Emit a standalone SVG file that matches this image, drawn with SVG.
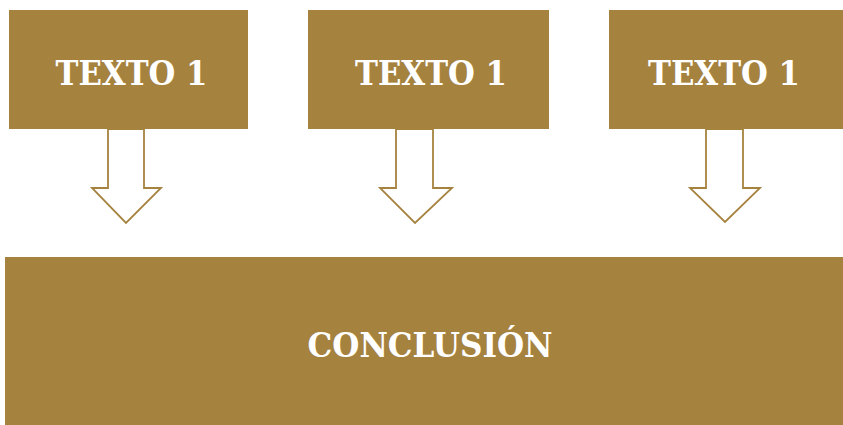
<svg xmlns="http://www.w3.org/2000/svg" width="843" height="425" viewBox="0 0 843 425">
<style>
.box{fill:#a6823f}
.lbl{font-family:"DejaVu Serif","Liberation Serif",serif;font-weight:bold;font-size:34px;fill:#ffffff}
.arr{fill:#ffffff;stroke:#a6823f;stroke-width:1.8;stroke-linejoin:miter}
</style>
<rect width="843" height="425" fill="#ffffff"/>
<g id="connectors">
<polygon class="arr" points="108,129 108,188 92,188 126,223 161,188 144,188 144,129"/>
<polygon class="arr" points="396,129 396,188 380,188 415,223 452,188 433,188 433,129"/>
<polygon class="arr" points="706,129 706,188 690,188 725,222 760,188 743,188 743,129"/>
</g>
<g id="texto1a">
<rect class="box" x="9" y="10" width="239" height="119"/>
<text class="lbl" x="131.5" y="85" text-anchor="middle" textLength="152" lengthAdjust="spacingAndGlyphs">TEXTO 1</text>
</g>
<g id="texto1b">
<rect class="box" x="308" y="10" width="241" height="119"/>
<text class="lbl" x="431" y="85" text-anchor="middle" textLength="152" lengthAdjust="spacingAndGlyphs">TEXTO 1</text>
</g>
<g id="texto1c">
<rect class="box" x="609" y="10" width="240" height="119"/>
<text class="lbl" x="724" y="85" text-anchor="middle" textLength="152" lengthAdjust="spacingAndGlyphs">TEXTO 1</text>
</g>
<g id="conclusion">
<rect class="box" x="5" y="257" width="845" height="175"/>
<text class="lbl" x="430" y="357" text-anchor="middle" textLength="245" lengthAdjust="spacingAndGlyphs">CONCLUSIÓN</text>
</g>
</svg>
